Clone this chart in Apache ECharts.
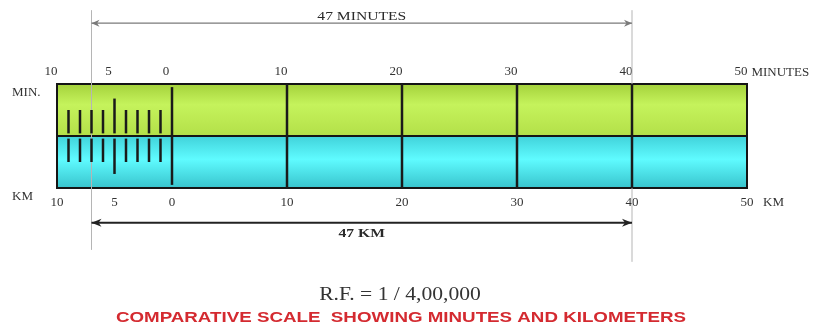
<!DOCTYPE html>
<html>
<head>
<meta charset="utf-8">
<script src="https://cdn.jsdelivr.net/npm/echarts@6.0.0/dist/echarts.min.js"></script>
<style>
  html, body { margin: 0; padding: 0; background: #fff; }
  #scale { width: 822px; height: 328px; }
</style>
</head>
<body>
<div id="scale"></div>
<script>
let chart = echarts.init(document.getElementById("scale"));

// scale data
const scaleMin = -10;
const scaleMax = 50;
const tickLabels = [-10, -5, 0, 10, 20, 30, 40, 50];
const majorDivisions = [0, 10, 20, 30, 40];
const minorDivisions = [-9, -8, -7, -6, -5, -4, -3, -2, -1];
const bandLabels = ["KM", "MIN."]; // bottom band, top band
const unitNames = ["KM", "MINUTES"];
const measured = [-7, 40]; // 47 units
const measureLabels = ["47 KM", "47 MINUTES"];
const rfText = "R.F. = 1 / 4,00,000";
const captionText = "COMPARATIVE SCALE  SHOWING MINUTES AND KILOMETERS";

const serif = "'Liberation Serif', 'DejaVu Serif', serif";

const bandFills = [
  new echarts.graphic.LinearGradient(0, 0, 0, 1, [
    { offset: 0, color: "#3fd0d8" },
    { offset: 0.45, color: "#5ffbff" },
    { offset: 1, color: "#37c2cb" },
  ]),
  new echarts.graphic.LinearGradient(0, 0, 0, 1, [
    { offset: 0, color: "#a3d03a" },
    { offset: 0.4, color: "#c5f35c" },
    { offset: 1, color: "#b3df48" },
  ]),
];

function renderBand(params, api) {
  const i = api.value(0);
  const p0 = api.coord([scaleMin, i + 1]);
  const p1 = api.coord([scaleMax, i]);
  return {
    type: "rect",
    shape: { x: p0[0], y: p0[1], width: p1[0] - p0[0], height: p1[1] - p0[1] },
    style: { fill: bandFills[i], stroke: "#151515", lineWidth: 2 },
  };
}

function vline(x, y0, y1, api, style) {
  const a = api.coord([x, y0]);
  const b = api.coord([x, y1]);
  return {
    type: "line",
    shape: { x1: a[0], y1: a[1], x2: b[0], y2: b[1] },
    style: style,
  };
}

function renderMajor(params, api) {
  const v = api.value(0);
  const inset = v === 0 ? 0.06 : 0;
  return vline(v, inset, 2 - inset, api, { stroke: "#1a1a1a", lineWidth: 2.5 });
}

function renderMinor(params, api) {
  const v = api.value(0);
  const half = v % 5 === 0;
  const st = { stroke: "#1a1a1a", lineWidth: 2.5 };
  return {
    type: "group",
    children: [
      vline(v, 1.05, half ? 1.72 : 1.5, api, st),
      vline(v, 0.95, half ? 0.27 : 0.5, api, st),
    ],
  };
}

function renderGuide(params, api) {
  const v = api.value(0);
  const bottom = params.dataIndex === 0 ? -1.19 : -1.42;
  return vline(v, 3.42, bottom, api, { stroke: "#b5b5b5", lineWidth: 1 });
}

function renderMeasure(params, api) {
  const i = api.value(2);
  const y = i === 1 ? 3.17 : -0.67;
  const a = api.coord([api.value(0), y]);
  const b = api.coord([api.value(1), y]);
  const top = i === 1;
  const color = top ? "#7a7a7a" : "#222";
  const children = [
    {
      type: "line",
      shape: { x1: a[0], y1: a[1], x2: b[0], y2: b[1] },
      style: { stroke: color, lineWidth: top ? 1.2 : 2 },
    },
  ];
  const len = top ? 8 : 10;
  const hw = top ? 3.5 : 4;
  [[a, 1], [b, -1]].forEach(function (e) {
    const p = e[0], d = e[1];
    children.push({
      type: "polygon",
      shape: {
        points: [
          [p[0], p[1]],
          [p[0] + d * len, p[1] - hw],
          [p[0] + d * len * 0.7, p[1]],
          [p[0] + d * len, p[1] + hw],
        ],
      },
      style: { fill: color },
    });
  });
  children.push({
    type: "text",
    x: (a[0] + b[0]) / 2,
    y: top ? a[1] : a[1] + 4,
    scaleX: 1.2,
    style: {
      text: measureLabels[i],
      font: (top ? "" : "bold ") + "13px " + serif,
      fill: "#2a2a2a",
      textAlign: "center",
      textVerticalAlign: top ? "bottom" : "top",
    },
  });
  return { type: "group", children: children };
}

const axisBase = {
  type: "value",
  min: scaleMin,
  max: scaleMax,
  axisLine: { show: false },
  axisTick: { show: false },
  splitLine: { show: false },
  nameLocation: "end",
};

let option = {
  animation: false,
  backgroundColor: "#fff",
  grid: { left: 57, right: 75, top: 84, height: 104 },
  xAxis: [
    Object.assign({}, axisBase, {
      position: "bottom",
      name: unitNames[0],
      nameGap: 16,
      nameTextStyle: { fontFamily: serif, fontSize: 13, color: "#333", verticalAlign: "top", padding: [8, 0, 0, 0] },
      axisLabel: {
        customValues: tickLabels,
        formatter: (v) => String(Math.abs(v)),
        fontFamily: serif,
        fontSize: 13,
        color: "#333",
        margin: 8,
      },
    }),
    Object.assign({}, axisBase, {
      position: "top",
      name: unitNames[1],
      nameGap: 3,
      nameTextStyle: { fontFamily: serif, fontSize: 13, color: "#333", verticalAlign: "bottom", padding: [0, 0, 5, 0] },
      axisLabel: {
        customValues: tickLabels,
        formatter: (v) => String(Math.abs(v)),
        fontFamily: serif,
        fontSize: 13,
        color: "#333",
        margin: 6,
        padding: [0, 12, 0, 0],
      },
    }),
  ],
  yAxis: {
    type: "value",
    min: 0,
    max: 2,
    axisLine: { show: false },
    axisTick: { show: false },
    splitLine: { show: false },
    axisLabel: {
      customValues: [0, 2],
      formatter: (v) => (v === 2 ? bandLabels[1] : bandLabels[0]),
      fontFamily: serif,
      fontSize: 13,
      color: "#333",
      align: "left",
      verticalAlign: "top",
      padding: [2, 0, 0, 0],
      margin: 45,
    },
  },
  graphic: [
    {
      type: "text",
      x: 400,
      y: 295,
      scaleX: 1.2,
      style: { text: rfText, font: "18px " + serif, fill: "#333", textAlign: "center", textVerticalAlign: "middle" },
    },
    {
      type: "text",
      x: 401,
      y: 318,
      scaleX: 1.25,
      style: {
        text: captionText,
        font: "bold 15px 'Liberation Sans', Arial, sans-serif",
        fill: "#d42a30",
        textAlign: "center",
        textVerticalAlign: "middle",
      },
    },
  ],
  series: [
    { type: "custom", clip: false, renderItem: renderBand, data: bandLabels.map((_, i) => [i, i]) },
    { type: "custom", clip: false, renderItem: renderGuide, data: measured.map((v) => [v, 1]) },
    { type: "custom", clip: false, renderItem: renderMajor, data: majorDivisions.map((v) => [v, 1]) },
    { type: "custom", clip: false, renderItem: renderMinor, data: minorDivisions.map((v) => [v, 1]) },
    {
      type: "custom",
      clip: false,
      renderItem: renderMeasure,
      data: measureLabels.map((_, i) => [measured[0], measured[1], i]),
    },
  ],
};

chart.setOption(option);
</script>
</body>
</html>
